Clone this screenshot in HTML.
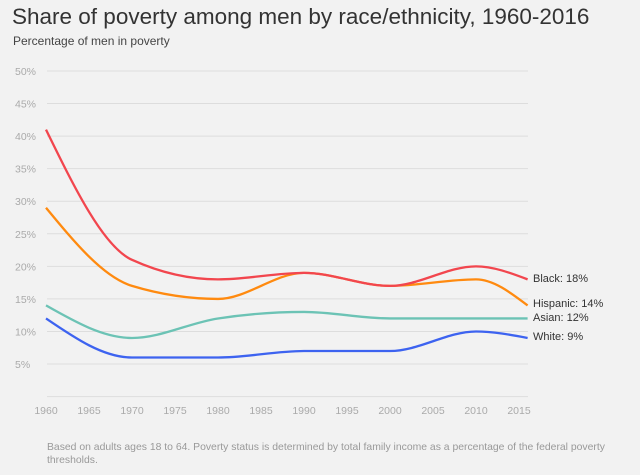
<!DOCTYPE html>
<html><head><meta charset="utf-8"><style>
body{margin:0;background:#f2f2f2;font-family:"Liberation Sans",sans-serif;}
svg{display:block}
</style></head><body>
<svg width="640" height="475">
<rect width="640" height="475" fill="#f2f2f2"/>
<text x="12" y="24" font-size="22.5" fill="#333">Share of poverty among men by race/ethnicity, 1960-2016</text>
<text x="13" y="45" font-size="12" fill="#444">Percentage of men in poverty</text>
<g id="grid"></g><g id="lines"></g><g id="labels"></g>
<text x="47" y="450" font-size="10.4" fill="#999">Based on adults ages 18 to 64. Poverty status is determined by total family income as a percentage of the federal poverty</text>
<text x="47" y="463" font-size="10.4" fill="#999">thresholds.</text>
</svg>
<script>
const years=[1960,1970,1980,1990,2000,2010,2016];
const black=[41,21,18,19,17,20,18];
const hispanic=[29,17,15,19,17,18,14];
const asian=[14,9,12,13,12,12,12];
const white=[12,6,6,7,7,10,9];
const yTicks=[5,10,15,20,25,30,35,40,45,50];
const xTicks=[1960,1965,1970,1975,1980,1985,1990,1995,2000,2005,2010,2015];
const seriesNames=["Black","Hispanic","Asian","White"];
const NS="http://www.w3.org/2000/svg";
const x=v=>46+(v-1960)*8.6;
const y=v=>396.6-v*6.512;
function mk(tag,attrs,parent){const e=document.createElementNS(NS,tag);for(const k in attrs)e.setAttribute(k,attrs[k]);document.getElementById(parent).appendChild(e);return e;}
yTicks.forEach(t=>{
 const l=mk('line',{x1:47,x2:528,y1:y(t),y2:y(t),stroke:'#ddd','stroke-width':1},'grid');
 
 
 const tx=mk('text',{x:15,y:y(t)+4,'font-size':10.5,fill:'#aaa'},'grid');tx.textContent=t+'%';
 
 
});
const base=mk('line',{x1:47,x2:528,y1:y(0),y2:y(0),stroke:'#ddd','stroke-width':1},'grid');


xTicks.forEach(t=>{
 const tx=mk('text',{x:x(t),y:414,'font-size':10.5,fill:'#aaa','text-anchor':'middle'},'grid');tx.textContent=t;
 
 
});
function monotone(xs,ys){
 const n=xs.length,d=[],m=[];
 for(let i=0;i<n-1;i++)d.push((ys[i+1]-ys[i])/(xs[i+1]-xs[i]));
 m[0]=d[0];m[n-1]=d[n-2];
 for(let i=1;i<n-1;i++){if(d[i-1]*d[i]<=0)m[i]=0;else{const h0=xs[i]-xs[i-1],h1=xs[i+1]-xs[i];const s=(d[i-1]*h1+d[i]*h0)/(h0+h1);m[i]=Math.sign(s)*Math.min(Math.abs(s),2*Math.min(Math.abs(d[i-1]),Math.abs(d[i])));}}
 m[0]=(3*d[0]-m[1])/2;m[n-1]=(3*d[n-2]-m[n-2])/2;
 let p='M'+xs[0]+','+ys[0];
 for(let i=0;i<n-1;i++){const h=(xs[i+1]-xs[i])/3;p+=` C${xs[i]+h},${ys[i]+m[i]*h} ${xs[i+1]-h},${ys[i+1]-m[i+1]*h} ${xs[i+1]},${ys[i+1]}`;}
 return p;
}
const data=[white,asian,hispanic,black];
const colors=["#3d63f0","#6cc3b5","#ff8a0f","#f2464e"];
const names=["white","asian","hispanic","black"];
const labelText=["White: 9%","Asian: 12%","Hispanic: 14%","Black: 18%"];
const labelY=[340,321,307,282];
data.forEach((s,i)=>{
 const p=mk('path',{d:monotone(years.map(x),s.map(y)),fill:'none',stroke:colors[i],'stroke-width':2.3},'lines');
 
 
 const t=mk('text',{x:533,y:labelY[i],'font-size':11,fill:'#333'},'labels');t.textContent=labelText[i];
 
 
});
</script>
</body></html>
